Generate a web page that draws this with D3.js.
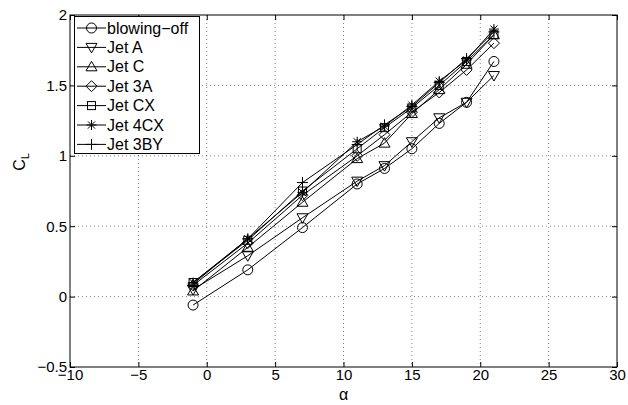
<!DOCTYPE html>
<html><head><meta charset="utf-8">
<script src="https://cdn.jsdelivr.net/npm/d3@7"></script>
<style>body{margin:0;background:#fff}svg{display:block;font-family:"Liberation Sans",Arial,sans-serif}</style>
</head><body><svg id="c" width="628" height="405"></svg>
<script>
const alpha = [-1, 3, 7, 11, 13, 15, 17, 19, 21];
const blowingOff = [-0.06, 0.19, 0.49, 0.80, 0.91, 1.05, 1.23, 1.38, 1.67];
const jetA   = [0.05, 0.29, 0.56, 0.82, 0.93, 1.10, 1.27, 1.38, 1.57];
const jetC   = [0.04, 0.35, 0.67, 0.98, 1.09, 1.30, 1.47, 1.65, 1.86];
const jet3A  = [0.08, 0.38, 0.72, 1.00, 1.15, 1.31, 1.45, 1.61, 1.80];
const jetCX  = [0.10, 0.40, 0.75, 1.05, 1.20, 1.34, 1.50, 1.67, 1.86];
const jet4CX = [0.10, 0.41, 0.74, 1.10, 1.21, 1.36, 1.53, 1.68, 1.90];
const jet3BY = [0.09, 0.41, 0.81, 1.08, 1.22, 1.35, 1.52, 1.69, 1.88];
const seriesNames = ["blowing\u2212off", "Jet A", "Jet C", "Jet 3A", "Jet CX", "Jet 4CX", "Jet 3BY"];
const seriesValues = [blowingOff, jetA, jetC, jet3A, jetCX, jet4CX, jet3BY];
const markers = ["circle", "tridown", "triup", "diamond", "square", "star", "plus"];
const xTicks = [-10, -5, 0, 5, 10, 15, 20, 25, 30];
const yTicks = [-0.5, 0, 0.5, 1, 1.5, 2];

const svg = d3.select("#c");
const L = 70, R = 617, T = 15, B = 367;
const x = d3.scaleLinear().domain([-10, 30]).range([L, R]);
const y = d3.scaleLinear().domain([-0.5, 2]).range([B, T]);

// grid
const g = svg.append("g");
xTicks.slice(1, -1).forEach(t => g.append("line").attr("x1", x(t)).attr("x2", x(t)).attr("y1", T).attr("y2", B)
  .attr("stroke", "#000").attr("stroke-width", 0.5).attr("stroke-dasharray", "1,3"));
yTicks.slice(1, -1).forEach(t => g.append("line").attr("x1", L).attr("x2", R).attr("y1", y(t)).attr("y2", y(t))
  .attr("stroke", "#000").attr("stroke-width", 0.5).attr("stroke-dasharray", "1,3"));

// axes
const fmt = d => d < 0 ? "\u2212" + Math.abs(d) : d;
const ax = svg.append("g").attr("transform", `translate(0,${B})`)
  .call(d3.axisBottom(x).tickValues(xTicks).tickSize(-5).tickPadding(2).tickFormat(fmt));
const ay = svg.append("g").attr("transform", `translate(${L},0)`)
  .call(d3.axisLeft(y).tickValues(yTicks).tickSize(-5).tickPadding(3).tickFormat(fmt));
const axT = svg.append("g").attr("transform", `translate(0,${T})`)
  .call(d3.axisTop(x).tickValues(xTicks).tickSize(-5).tickFormat(""));
const ayR = svg.append("g").attr("transform", `translate(${R},0)`)
  .call(d3.axisRight(y).tickValues(yTicks).tickSize(-5).tickFormat(""));
[ax, ay, axT, ayR].forEach(a => {
  a.select(".domain").remove();
  a.selectAll("line").attr("stroke", "#000");
  a.selectAll("text").attr("font-size", 15).attr("fill", "#000").attr("font-family", "Liberation Sans, Arial, sans-serif");
});
svg.append("rect").attr("x", L).attr("y", T).attr("width", R - L).attr("height", B - T)
  .attr("fill", "none").attr("stroke", "#000").attr("stroke-width", 1);

// marker drawing
function drawMarker(sel, type, cx, cy) {
  let el;
  if (type === "circle") el = sel.append("circle").attr("cx", cx).attr("cy", cy).attr("r", 5);
  else if (type === "square") el = sel.append("rect").attr("x", cx - 4).attr("y", cy - 4).attr("width", 8).attr("height", 8);
  else if (type === "diamond") el = sel.append("path").attr("d", `M${cx},${cy - 5.5}L${cx + 5.5},${cy}L${cx},${cy + 5.5}L${cx - 5.5},${cy}Z`);
  else if (type === "triup") el = sel.append("path").attr("d", `M${cx},${cy - 5.5}L${cx + 5.5},${cy + 4}L${cx - 5.5},${cy + 4}Z`);
  else if (type === "tridown") el = sel.append("path").attr("d", `M${cx},${cy + 5.5}L${cx + 5.5},${cy - 4}L${cx - 5.5},${cy - 4}Z`);
  else if (type === "plus") el = sel.append("path").attr("d", `M${cx - 5.5},${cy}H${cx + 5.5}M${cx},${cy - 5.5}V${cy + 5.5}`);
  else if (type === "star") el = sel.append("path").attr("d",
    `M${cx - 5},${cy}H${cx + 5}M${cx},${cy - 5}V${cy + 5}M${cx - 3.6},${cy - 3.6}L${cx + 3.6},${cy + 3.6}M${cx - 3.6},${cy + 3.6}L${cx + 3.6},${cy - 3.6}`);
  el.attr("fill", "none").attr("stroke", "#000").attr("stroke-width", 1);
}

const line = d3.line().x(d => x(d[0])).y(d => y(d[1]));
seriesValues.forEach((vals, i) => {
  const pts = alpha.map((a, j) => [a, vals[j]]);
  const sg = svg.append("g");
  sg.append("path").attr("d", line(pts)).attr("fill", "none").attr("stroke", "#000").attr("stroke-width", 1);
  pts.forEach(p => drawMarker(sg, markers[i], x(p[0]), y(p[1])));
});

// legend
const lg = svg.append("g");
lg.append("rect").attr("x", 74.5).attr("y", 16.5).attr("width", 125).attr("height", 137)
  .attr("fill", "#fff").attr("stroke", "#000").attr("stroke-width", 1);
seriesNames.forEach((n, i) => {
  const yy = 28 + i * 19.4;
  lg.append("line").attr("x1", 77).attr("x2", 106).attr("y1", yy).attr("y2", yy).attr("stroke", "#000");
  drawMarker(lg, markers[i], 91.5, yy);
  lg.append("text").attr("x", 107).attr("y", yy + 5.5).attr("font-size", 16).text(n);
});

// labels
svg.append("text").attr("x", x(10)).attr("y", 400).attr("text-anchor", "middle").attr("font-size", 16).text("\u03b1");
const yl = svg.append("text").attr("transform", `translate(25,162) rotate(-90)`).attr("text-anchor", "middle").attr("font-size", 16);
yl.append("tspan").text("C");
yl.append("tspan").attr("font-size", 11).attr("dy", 4).text("L");
</script></body></html>
